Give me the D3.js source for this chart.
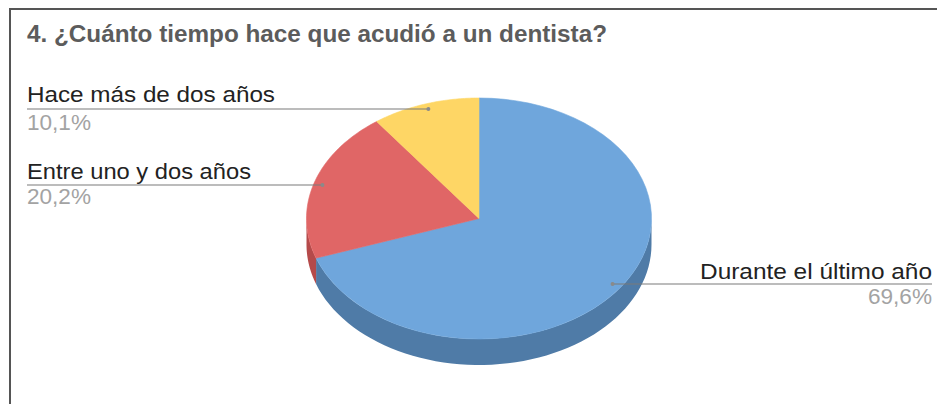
<!DOCTYPE html>
<html>
<head>
<meta charset="utf-8">
<script src="https://cdn.jsdelivr.net/npm/d3@7"></script>
<style>
  html, body { margin: 0; padding: 0; background: #fff; }
  svg { display: block; font-family: "Liberation Sans", Arial, sans-serif; }
</style>
</head>
<body>
<svg id="chart" width="937" height="404"></svg>
<script>
// Survey question and answers
const title = "4. ¿Cuánto tiempo hace que acudió a un dentista?";
const categories = ["Durante el último año", "Entre uno y dos años", "Hace más de dos años"];
const values = [69.6, 20.2, 10.1];
const percentLabels = ["69,6%", "20,2%", "10,1%"];
const topColors = ["#6fa6dc", "#e06666", "#fed665"];
const sideColors = ["#4f7ba7", "#b54a4a", "#c9a64a"];

const svg = d3.select("#chart");

// Frame (top and left rules)
svg.append("path")
  .attr("d", "M10,404 L10,9 L937,9")
  .attr("fill", "none").attr("stroke", "#555").attr("stroke-width", 2);

svg.append("text")
  .attr("x", 27).attr("y", 42)
  .attr("font-size", 23).attr("font-weight", "bold")
  .attr("fill", "#5c5c5c")
  .attr("textLength", 580).attr("lengthAdjust", "spacingAndGlyphs")
  .text(title);

// 3D pie geometry
const cx = 479, cy = 218.5, rx = 172.5, ry = 120.5, depth = 26;
const pie = d3.pie().sort(null).value(d => d).startAngle(0).endAngle(2 * Math.PI);
const arcs = pie(values);

// angle measured clockwise from 12 o'clock -> screen point on the tilted ellipse
const pt = (a, dy = 0) => [cx + rx * Math.sin(a), cy - ry * Math.cos(a) + dy];
const samples = (a0, a1) => d3.range(0, 61).map(i => a0 + (a1 - a0) * i / 60);
const line = d3.line();

// Side walls: only the front half (angles between 90° and 270°) faces the viewer
arcs.forEach((a, i) => {
  const s = Math.max(a.startAngle, Math.PI / 2);
  const e = Math.min(a.endAngle, 3 * Math.PI / 2);
  if (e <= s) return;
  const top = samples(s, e).map(t => pt(t));
  const bottom = samples(e, s).map(t => pt(t, depth));
  svg.append("path")
    .attr("d", line(top.concat(bottom)) + "Z")
    .attr("fill", sideColors[i]);
});

// Top faces
arcs.forEach((a, i) => {
  const pts = [[cx, cy]].concat(samples(a.startAngle, a.endAngle).map(t => pt(t)));
  svg.append("path")
    .attr("d", line(pts) + "Z")
    .attr("fill", topColors[i])
    .attr("stroke", topColors[i]).attr("stroke-width", 0.6);
});

// Leader lines and labels
const labelFont = 22;
const layout = [
  { r: 0.95, side: "right", lineY: 284, nameY: 279, pctY: 304, nameW: 232, pctW: 64 },
  { r: 0.95, side: "left",  lineY: 185, nameY: 179, pctY: 204, nameW: 224, pctW: 64 },
  { r: 0.94, side: "left",  lineY: 109, nameY: 102, pctY: 130, nameW: 248, pctW: 64 }
];

arcs.forEach((a, i) => {
  const L = layout[i];
  const mid = (a.startAngle + a.endAngle) / 2;
  // the leader lines run horizontally from the slice to the label
  const ax = cx + rx * L.r * Math.sin(mid);
  const ex = L.side === "left" ? 27 : 932;
  svg.append("line")
    .attr("x1", ex).attr("y1", L.lineY)
    .attr("x2", ax).attr("y2", L.lineY)
    .attr("stroke", "#7a7a7a").attr("stroke-width", 1.2);
  svg.append("circle")
    .attr("cx", ax).attr("cy", L.lineY).attr("r", 2)
    .attr("fill", "#8a8a8a");

  const anchor = L.side === "left" ? "start" : "end";
  svg.append("text")
    .attr("x", ex).attr("y", L.nameY)
    .attr("text-anchor", anchor)
    .attr("font-size", labelFont).attr("fill", "#222")
    .attr("textLength", L.nameW).attr("lengthAdjust", "spacingAndGlyphs")
    .text(categories[i]);
  svg.append("text")
    .attr("x", ex).attr("y", L.pctY)
    .attr("text-anchor", anchor)
    .attr("font-size", labelFont).attr("fill", "#a3a3a3")
    .attr("textLength", L.pctW).attr("lengthAdjust", "spacingAndGlyphs")
    .text(percentLabels[i]);
});
</script>
</body>
</html>
